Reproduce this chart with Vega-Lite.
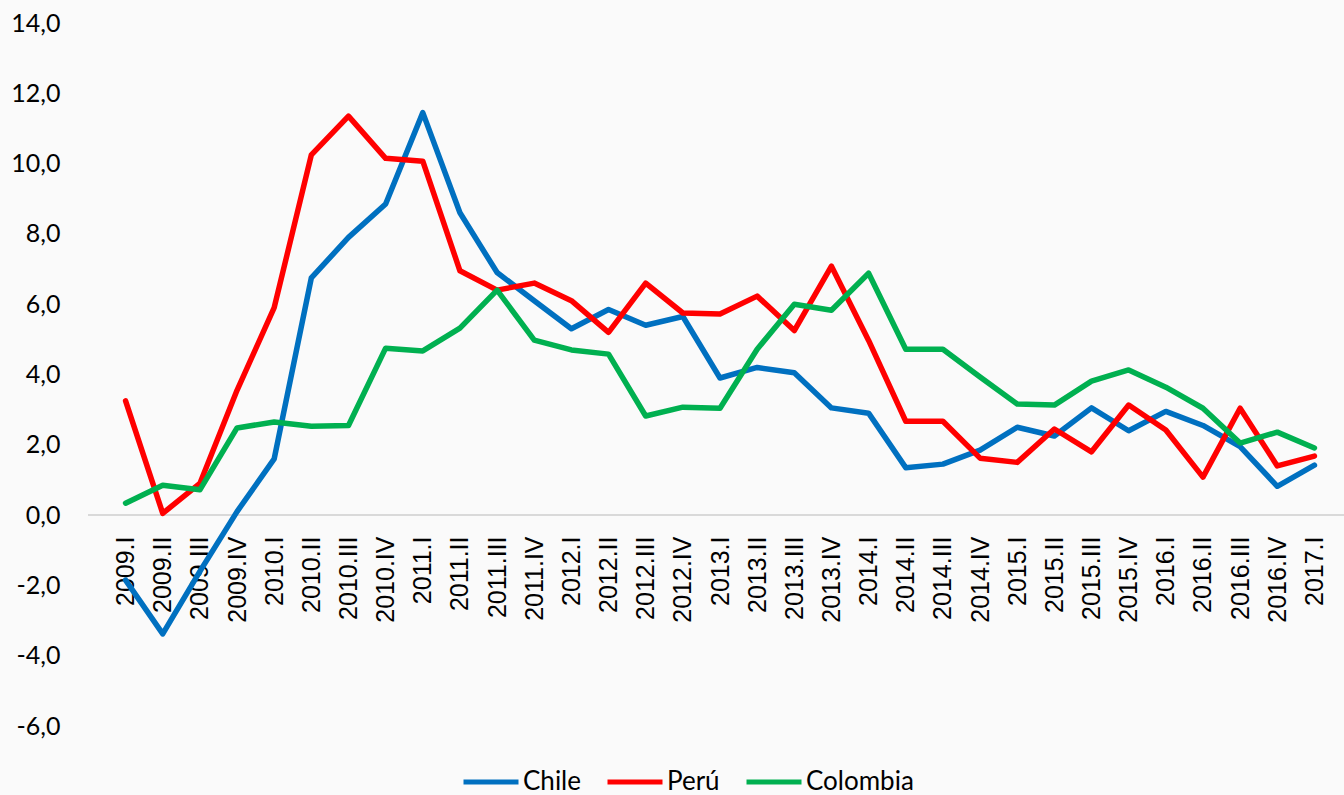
{
  "$schema": "https://vega.github.io/schema/vega-lite/v6.json",
  "autosize": "none",
  "width": 1256,
  "height": 703,
  "padding": {"left": 88, "top": 23, "right": 0, "bottom": 69},
  "background": "#fafafa",
  "config": {"view": {"stroke": null}, "font": "Lato"},
  "data": {"values": [
    {"q":"2009.I","Chile":-1.85,"Perú":3.25,"Colombia":0.34},
    {"q":"2009.II","Chile":-3.38,"Perú":0.05,"Colombia":0.85},
    {"q":"2009.III","Chile":-1.6,"Perú":0.9,"Colombia":0.72},
    {"q":"2009.IV","Chile":0.1,"Perú":3.55,"Colombia":2.48},
    {"q":"2010.I","Chile":1.6,"Perú":5.9,"Colombia":2.65},
    {"q":"2010.II","Chile":6.75,"Perú":10.25,"Colombia":2.53},
    {"q":"2010.III","Chile":7.9,"Perú":11.35,"Colombia":2.55},
    {"q":"2010.IV","Chile":8.85,"Perú":10.15,"Colombia":4.75},
    {"q":"2011.I","Chile":11.45,"Perú":10.07,"Colombia":4.67},
    {"q":"2011.II","Chile":8.6,"Perú":6.95,"Colombia":5.32},
    {"q":"2011.III","Chile":6.9,"Perú":6.4,"Colombia":6.4},
    {"q":"2011.IV","Chile":6.1,"Perú":6.6,"Colombia":4.98},
    {"q":"2012.I","Chile":5.3,"Perú":6.1,"Colombia":4.7},
    {"q":"2012.II","Chile":5.85,"Perú":5.2,"Colombia":4.58},
    {"q":"2012.III","Chile":5.4,"Perú":6.6,"Colombia":2.82},
    {"q":"2012.IV","Chile":5.65,"Perú":5.75,"Colombia":3.07},
    {"q":"2013.I","Chile":3.9,"Perú":5.72,"Colombia":3.04},
    {"q":"2013.II","Chile":4.2,"Perú":6.23,"Colombia":4.72},
    {"q":"2013.III","Chile":4.05,"Perú":5.25,"Colombia":6.0},
    {"q":"2013.IV","Chile":3.05,"Perú":7.08,"Colombia":5.83},
    {"q":"2014.I","Chile":2.9,"Perú":4.97,"Colombia":6.88},
    {"q":"2014.II","Chile":1.35,"Perú":2.67,"Colombia":4.72},
    {"q":"2014.III","Chile":1.45,"Perú":2.67,"Colombia":4.72},
    {"q":"2014.IV","Chile":1.85,"Perú":1.62,"Colombia":3.93},
    {"q":"2015.I","Chile":2.5,"Perú":1.5,"Colombia":3.16},
    {"q":"2015.II","Chile":2.25,"Perú":2.45,"Colombia":3.13},
    {"q":"2015.III","Chile":3.05,"Perú":1.8,"Colombia":3.81},
    {"q":"2015.IV","Chile":2.4,"Perú":3.13,"Colombia":4.13},
    {"q":"2016.I","Chile":2.95,"Perú":2.42,"Colombia":3.64},
    {"q":"2016.II","Chile":2.55,"Perú":1.08,"Colombia":3.04},
    {"q":"2016.III","Chile":1.95,"Perú":3.04,"Colombia":2.05},
    {"q":"2016.IV","Chile":0.82,"Perú":1.4,"Colombia":2.36},
    {"q":"2017.I","Chile":1.42,"Perú":1.68,"Colombia":1.91}
  ]},
  "transform": [{"fold": ["Chile", "Perú", "Colombia"], "as": ["pais", "v"]}],
  "layer": [
    {
      "mark": {"type": "rule", "color": "#d9d9d9", "strokeWidth": 1.5},
      "encoding": {"y": {"datum": 0, "type": "quantitative", "scale": {"domain": [-6, 14]}}}
    },
    {
      "mark": {"type": "line", "strokeWidth": 5.5, "strokeJoin": "round", "strokeCap": "round"},
      "encoding": {
        "x": {
          "field": "q", "type": "ordinal", "sort": null,
          "scale": {"type": "point", "range": [19, 1245]},
          "axis": {
            "title": null, "labelAngle": -90, "domain": false, "ticks": false,
            "offset": -211, "labelPadding": 21, "labelFont": "Liberation Sans",
            "labelFontSize": 25, "labelColor": "#000000", "grid": false
          }
        },
        "y": {
          "field": "v", "type": "quantitative",
          "scale": {"domain": [-6, 14], "nice": false, "zero": false},
          "axis": {
            "title": null, "values": [-6, -4, -2, 0, 2, 4, 6, 8, 10, 12, 14],
            "labelExpr": "replace(replace(format(datum.value, '.1f'), '.', ','), '\u2212', '-')",
            "domain": false, "ticks": false, "grid": false,
            "labelPadding": 28, "labelFont": "Lato", "labelFontSize": 25, "labelColor": "#000000"
          }
        },
        "color": {
          "field": "pais", "type": "nominal",
          "scale": {"domain": ["Chile", "Perú", "Colombia"], "range": ["#0070C0", "#FF0000", "#00B050"]},
          "legend": {
            "title": null, "orient": "none", "direction": "horizontal",
            "legendX": 373, "legendY": 729,
            "symbolType": "stroke", "symbolSize": 3025, "symbolStrokeWidth": 5,
            "labelFont": "Lato", "labelFontSize": 26, "labelColor": "#000000",
            "labelOffset": 2, "columnPadding": 16
          }
        }
      }
    }
  ]
}
